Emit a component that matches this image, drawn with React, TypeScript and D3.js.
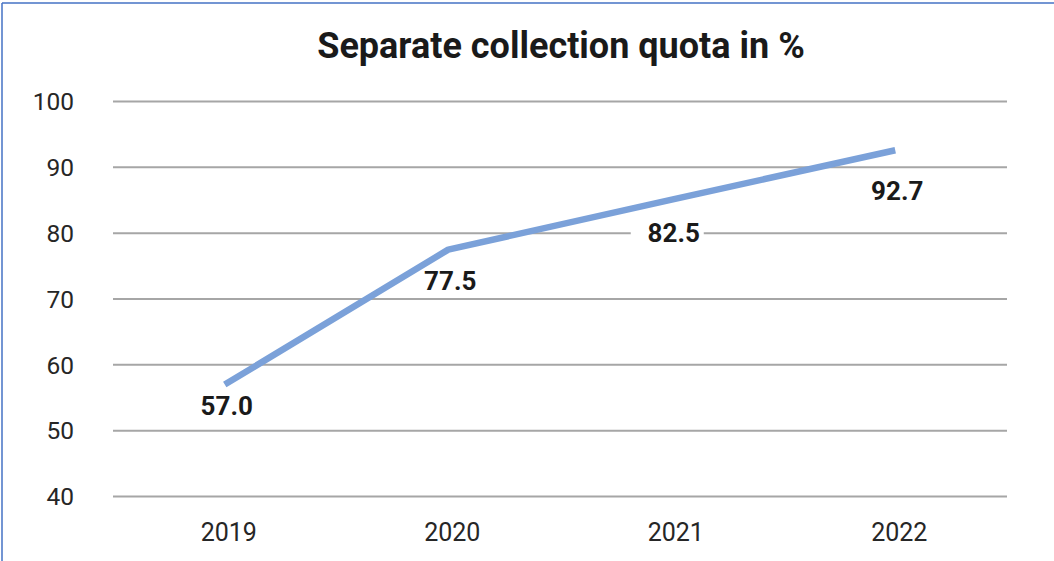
import React from "react";
import * as d3 from "d3";

const years = ["2019", "2020", "2021", "2022"];
const lineValues = [57.0, 77.5, 85.1, 92.6];
const labelTexts = ["57.0", "77.5", "82.5", "92.7"];
const yTicks = [40, 50, 60, 70, 80, 90, 100];
const title = "Separate collection quota in %";

// layout
const W = 1054;
const H = 561;
const M = { left: 113, right: 47, top: 101.5, bottom: 64.5 };
const LABEL_DY = [21, 31, 33, 40];

export default function App() {
  const x = d3
    .scaleBand<string>()
    .domain(years)
    .range([M.left, W - M.right]);
  const y = d3
    .scaleLinear()
    .domain([40, 100])
    .range([H - M.bottom, M.top]);
  const line = d3
    .line<number>()
    .x((_, i) => (x(years[i]) as number) + x.bandwidth() / 2)
    .y((d) => y(d));
  const font = "Roboto, 'Noto Sans', sans-serif";
  return (
    <svg
      width={W}
      height={H}
      style={{ position: "absolute", left: 0, top: 0, background: "#fff" }}
    >
      <rect x={0} y={0} width={W} height={H} fill="#fff" />
      <line x1={2} y1={3} x2={W} y2={3} stroke="#4472c4" strokeWidth={1.5} />
      <line x1={2} y1={3} x2={2} y2={H} stroke="#4472c4" strokeWidth={1.5} />
      <text
        x={561}
        y={58}
        textAnchor="middle"
        fontFamily={font}
        fontWeight={700}
        fontSize={36}
        fill="#1a1a1a"
      >
        {title}
      </text>
      {yTicks.map((t) => (
        <g key={t}>
          <line
            x1={M.left}
            x2={W - M.right}
            y1={y(t)}
            y2={y(t)}
            stroke="#a6a6a6"
            strokeWidth={2}
          />
          <text
            x={74}
            y={y(t)}
            dy="0.36em"
            textAnchor="end"
            fontFamily={font}
            fontSize={24.5}
            fill="#262626"
          >
            {t}
          </text>
        </g>
      ))}
      {years.map((yr) => (
        <text
          key={yr}
          x={(x(yr) as number) + x.bandwidth() / 2 + 4}
          y={H - 20.5}
          textAnchor="middle"
          fontFamily={font}
          fontSize={25}
          fill="#262626"
        >
          {yr}
        </text>
      ))}
      <path
        d={line(lineValues) || ""}
        fill="none"
        stroke="#7ba1d9"
        strokeWidth={6.5}
        strokeLinejoin="round"
      />
      {labelTexts.map((lb, i) => {
        const cx = (x(years[i]) as number) + x.bandwidth() / 2 + 2;
        const cy = y(lineValues[i]) + LABEL_DY[i];
        return (
          <g key={lb}>
            {i === 2 && (
              <rect x={cx - 43} y={cy - 14} width={73} height={28} fill="#fff" />
            )}
            <text
              x={cx}
              y={cy}
              dy="0.36em"
              textAnchor="middle"
              fontFamily={font}
              fontWeight={700}
              fontSize={26}
              fill="#1a1a1a"
            >
              {lb}
            </text>
          </g>
        );
      })}
    </svg>
  );
}
